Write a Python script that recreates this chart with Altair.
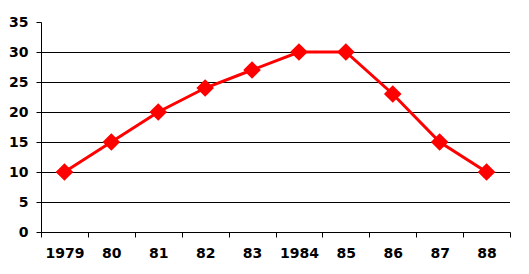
import altair as alt
import pandas as pd

years = ["1979", "80", "81", "82", "83", "1984", "85", "86", "87", "88"]
values = [10, 15, 20, 24, 27, 30, 30, 23, 15, 10]
grid_vals = [5, 10, 15, 20, 25, 30]
y_ticks = [0, 5, 10, 15, 20, 25, 30, 35]

df = pd.DataFrame({"year": years, "value": values})
gdf = pd.DataFrame({"g": grid_vals})

FONT = "DejaVu Sans"

x_axis = alt.Axis(labelAngle=0, tickBand="extent", tickSize=5,
                  tickColor="black", domainColor="black",
                  labelFont=FONT, labelFontWeight="bold",
                  labelFontSize=14, labelColor="black",
                  labelOverlap=False, labelPadding=9, grid=False)
y_axis = alt.Axis(values=y_ticks, grid=False,
                  tickSize=5, tickColor="black", domainColor="black",
                  labelOverlap=False, labelFont=FONT, labelFontWeight="bold",
                  labelFontSize=14, labelColor="black", labelPadding=8)
x_scale = alt.Scale(paddingInner=0, paddingOuter=0)
y_scale = alt.Scale(domain=[0, 35], nice=False)

grid = alt.Chart(gdf).mark_rule(color="black", strokeWidth=1, yOffset=0.5).encode(
    y=alt.Y("g:Q", scale=y_scale, title=None, axis=y_axis)
)

line = alt.Chart(df).mark_line(color="#ff0000", strokeWidth=3).encode(
    x=alt.X("year:N", sort=years, title=None, scale=x_scale, axis=x_axis),
    y=alt.Y("value:Q", scale=y_scale, title=None, axis=y_axis),
)
pts = alt.Chart(df).mark_point(shape="diamond", filled=True, color="#ff0000",
                               size=310, opacity=1).encode(
    x=alt.X("year:N", sort=years, title=None, scale=x_scale, axis=x_axis),
    y=alt.Y("value:Q", scale=y_scale, title=None, axis=y_axis),
)

chart = alt.layer(grid, line, pts).properties(
    width=469, height=210,
    autosize=alt.AutoSizeParams(type="none"),
    padding={"left": 41, "top": 22, "right": 19, "bottom": 42},
    background="white",
).configure_view(stroke=None)

chart.save("out.html", embed_options={"renderer": "svg", "actions": False})
